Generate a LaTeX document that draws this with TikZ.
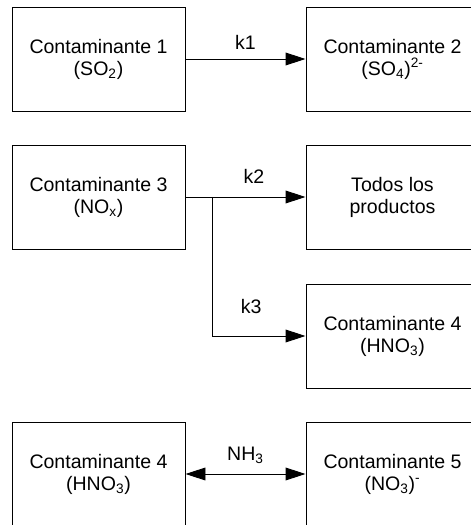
\documentclass[tikz,border=0pt]{standalone}
\usepackage{fontspec}
\setmainfont{Liberation Sans}
\usetikzlibrary{arrows.meta}
\begin{document}
\begin{tikzpicture}[
    box/.style={draw, line width=0.7pt, minimum width=4.325cm, minimum height=2.6cm,
      align=center, font=\fontsize{13.9}{15.6}\selectfont},
    lbl/.style={font=\fontsize{13.9}{15.6}\selectfont},
    conn/.style={line width=0.7pt, -{Triangle[length=0.5cm, width=0.32cm]}},
    both/.style={line width=0.7pt, {Triangle[length=0.5cm, width=0.32cm]}-{Triangle[length=0.5cm, width=0.32cm]}}
  ]
    \def \xl {2.4625} % centre of left column
    \def \xr {9.8125} % centre of right column

    \clip (0,0) rectangle (11.775,13.125);

    % Boxes
    \node[box] (c1) at (\xl, 11.65) {Contaminante 1\\(SO\textsubscript{2})};
    \node[box] (c2) at (\xr, 11.65) {Contaminante 2\\(SO\textsubscript{4})\textsuperscript{2-}};
    \node[box] (c3) at (\xl, 8.2) {Contaminante 3\\(NO\textsubscript{x})};
    \node[box] (todos) at (\xr, 8.2) {Todos los\\productos};
    \node[box] (c4) at (\xr, 4.725) {Contaminante 4\\(HNO\textsubscript{3})};
    \node[box] (c4b) at (\xl, 1.275) {Contaminante 4\\(HNO\textsubscript{3})};
    \node[box] (c5) at (\xr, 1.275) {Contaminante 5\\(NO\textsubscript{3})\textsuperscript{-}};

    % Arrows
    \coordinate (split) at (5.3, 8.2);
    \draw[conn] (c1.east) to node[midway, above=1mm, lbl] {k1} (c2.west);
    \draw[conn] (c3.east) to node[pos=0.57, above=2mm, lbl] {k2} (todos.west);
    \draw[conn] (split) |- node[pos=0.71, above=4.4mm, lbl] {k3} (c4.west);
    \draw[both] (c4b.east) to node[midway, above=1.4mm, lbl] {NH\textsubscript{3}} (c5.west);
  \end{tikzpicture}
\end{document}
